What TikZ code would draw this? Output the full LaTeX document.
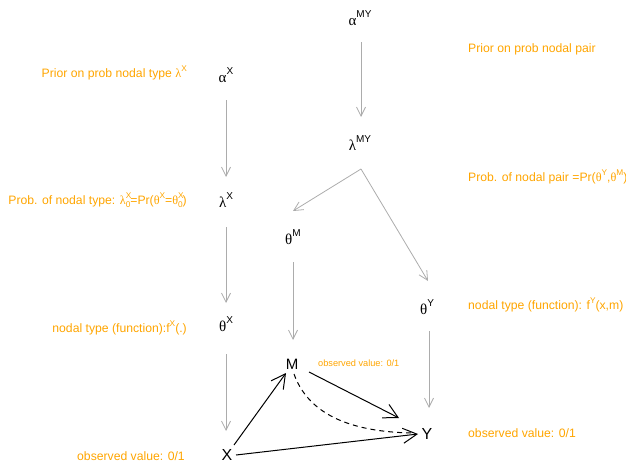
\documentclass[tikz,border=0pt]{standalone}
\usepackage{fontspec}
\setmainfont{Liberation Sans}
\newfontfamily\gkfont{Liberation Serif}
\usetikzlibrary{arrows.meta,calc}
\definecolor{labelorange}{RGB}{255,165,0}
\definecolor{linkgray}{RGB}{172,172,172}
% Greek letter in a serif face
\newcommand\gk[1]{{\gkfont #1}}
% raised index, size given in pt
\newcommand\upidx[2]{\raisebox{0.5em}{\fontsize{#1}{#1}\selectfont #2}}
% stacked super- and subscript
\newcommand\updn[3]{\rlap{\raisebox{0.5em}{\fontsize{#1}{#1}\selectfont #2}}\raisebox{-0.2em}{\fontsize{#1}{#1}\selectfont #3}}
\tikzset{
  var/.style={inner sep=0pt, font=\fontsize{15}{17}\selectfont},
  obs/.style={inner sep=0pt, font=\fontsize{16}{18}\selectfont},
  note/.style={inner sep=0pt, text=labelorange, font=\fontsize{12.2}{14}\selectfont},
  smallnote/.style={inner sep=0pt, text=labelorange, font=\fontsize{9.2}{11}\selectfont},
  prior/.style={draw=linkgray, line width=0.8pt, -{Straight Barb[length=9pt,width=9pt]}},
  causal/.style={draw=black, line width=1pt, -{Straight Barb[length=14pt,width=15pt]}},
  confound/.style={draw=black, line width=1pt, dash pattern=on 5pt off 4pt},
}
\begin{document}
\begin{tikzpicture}[x=1pt,y=-1pt]
\useasboundingbox (0,0) rectangle (626,463);

% parameter and type nodes
\node[var] (aMY) at (360,18) {\gk{α}\upidx{10}{MY}};
\node[var] (aX)  at (226,75) {\gk{α}\upidx{10}{X}};
\node[var] (lMY) at (360,143) {\gk{λ}\upidx{10}{MY}};
\node[var] (lX)  at (226,200) {\gk{λ}\upidx{10}{X}};
\node[var] (tM)  at (293,237) {\gk{θ}\upidx{10}{M}};
\node[var] (tY)  at (427,307) {\gk{θ}\upidx{10}{Y}};
\node[var] (tX)  at (226,324) {\gk{θ}\upidx{10}{X}};
% observed variables
\node[var] (M) at (292,364) {M};
\node[obs] (X) at (227,455) {X};
\node[obs] (Y) at (427,434) {Y};

% annotations
\node[note, anchor=east] (nAX) at (187,73) {Prior on prob nodal type \gk{λ}\upidx{8.3}{X}};
\node[note, anchor=west] (nAMY) at (468,49) {Prior on prob nodal pair};
\node[note, anchor=east] (nLX) at (187,200) {Prob. of nodal type: \gk{λ}\updn{8.3}{X}{0}=Pr(\gk{θ}\upidx{8.3}{X}=\gk{θ}\updn{8.3}{X}{0})};
\node[note, anchor=west] (nLMY) at (468,177) {Prob. of nodal pair =Pr(\gk{θ}\upidx{8.3}{Y},\gk{θ}\upidx{8.3}{M})};
\node[note, anchor=east] (nTX) at (187,328) {nodal type (function):f\upidx{8.3}{X}(.)};
\node[note, anchor=west] (nTY) at (468,305) {nodal type (function): f\upidx{8.3}{Y}(x,m)};
\node[note, anchor=east] (nX) at (185,456) {observed value: 0/1};
\node[note, anchor=west] (nY) at (468,433) {observed value: 0/1};
\node[smallnote, anchor=west] (nM) at (318,363) {observed value: 0/1};

% prior links
\draw[prior] ($(aMY)+(1,24)$) -- ($(lMY)+(1,-26)$);
\draw[prior] ($(aX)+(0,25)$) -- ($(lX)+(0,-23)$);
\draw[prior] ($(lX)+(0,27)$) -- ($(tX)+(0,-21)$);
\draw[prior] ($(tX)+(0,30)$) -- ($(X)+(-1,-24)$);
\draw[prior] ($(lMY)+(1,26)$) -- ($(tM)+(0,-26)$);
\draw[prior] ($(lMY)+(1,26)$) -- ($(tY)+(1,-26)$);
\draw[prior] ($(tM)+(0,25)$) -- ($(M)+(1,-24)$);
\draw[prior] ($(tY)+(2,24)$) -- ($(Y)+(2,-26)$);

% causal links
\draw[causal] ($(X)+(7,-10)$) -- ($(M)+(-6,9)$);
\draw[causal] ($(X)+(9,0)$) -- ($(Y)+(-9,0)$);
\draw[causal] ($(M)+(17,8)$) -- ($(Y)+(-28,-16)$);
\draw[confound] ($(M)+(2,10)$) .. controls ($(M)+(16,49)$) and ($(Y)+(-79,-2)$) .. ($(Y)+(-14,-1)$);
\end{tikzpicture}
\end{document}
